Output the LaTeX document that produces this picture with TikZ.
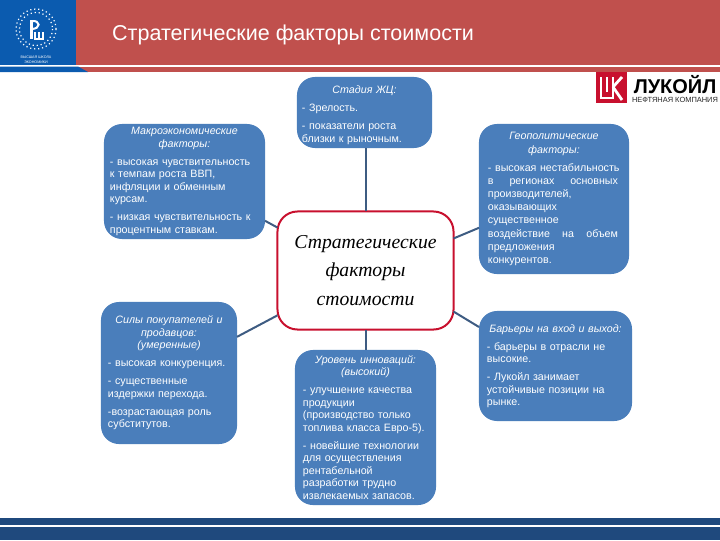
\documentclass[tikz,border=0pt]{standalone}
\usepackage{fontspec}
\setmainfont{Liberation Sans}
\newfontfamily\serifit{Liberation Serif}
\definecolor{hsered}{HTML}{C0504D}
\definecolor{hseblue}{HTML}{0B5BAF}
\definecolor{boxblue}{HTML}{4A7EBB}
\definecolor{linkblue}{HTML}{3E5C82}
\definecolor{footblue}{HTML}{1F497D}
\definecolor{lukred}{HTML}{C8102E}
\newcommand{\boxhead}[1]{{\centering\itshape #1\par}}
\newcommand{\spreadline}[3]{\leavevmode\hbox to 3.25cm{#1\hfill #2\hfill #3}}
\tikzset{
	infobox/.style={rounded corners=0.45cm, fill=boxblue, text=white, inner xsep=0.125cm, inner ysep=0cm, outer sep=0pt, align=left,
		font=\fontsize{7.6}{8.9}\selectfont, execute at begin node={\setlength{\parskip}{3.9pt}}},
	corebox/.style={rounded corners=0.5cm, draw=lukred, fill=white, line width=0.05cm, outer sep=0pt, align=center,
		font=\serifit\itshape\fontsize{14}{20}\selectfont},
	linkline/.style={draw=linkblue, line width=0.05cm}
}
\begin{document}
\begin{tikzpicture}[x=0.025cm, y=-0.025cm]
			%%%%% HEADER %%%%%
			\useasboundingbox (0, 0) rectangle (720, 540);
			
			\fill[hsered] (0, 0) rectangle (720, 65);
			\fill[hsered] (0, 66.5) rectangle (720, 72);
			\fill[hseblue] (0, 0) rectangle (76, 65);
			\fill[hseblue] (0, 66.5) -- (78, 66.5) -- (88, 72) -- (0, 72) -- cycle;
			
			\draw[white, dotted, line width=0.03cm] (36, 29) circle (20);
			\draw[white, dotted, line width=0.03cm] (36, 29) circle (16.5);
			\draw[white, line width=0.06cm] (31.5, 20) -- (31.5, 39);
			\draw[white, line width=0.05cm] (31.5, 21) .. controls (41, 20) and (41, 29) .. (31.5, 29);
			\draw[white, line width=0.04cm] (35, 32) -- (35, 39) -- (43, 39) -- (43, 32);
			\draw[white, line width=0.04cm] (39, 32) -- (39, 39);
			\node (logotext) at (36, 59.5) [white, align=center, inner sep=0pt, font=\fontsize{2.6}{3.6}\selectfont] {ВЫСШАЯ ШКОЛА\\ЭКОНОМИКИ};
			
			\node (title) at (293, 34.5) [white, inner sep=0pt, font=\fontsize{15.3}{17}\selectfont] {Стратегические факторы стоимости};
			
			%%%%% LOGO %%%%%
			\fill[lukred] (596, 72) rectangle (627, 103);
			\draw[white, line width=0.07cm] (601, 77) -- (601, 98) -- (613, 98) -- (613, 77);
			\draw[white, line width=0.07cm] (607, 77) -- (607, 92);
			\draw[white, line width=0.07cm] (613, 87) -- (622, 77);
			\draw[white, line width=0.07cm] (613, 87) -- (622, 100);
			\node (lukname) at (675, 84.5) [black, inner sep=0pt, font=\fontsize{14.2}{15}\bfseries\selectfont] {ЛУКОЙЛ};
			\node (luksub) at (675, 100) [black!85, inner sep=0pt, font=\fontsize{5.3}{6}\selectfont] {НЕФТЯНАЯ КОМПАНИЯ};
			
			%%%%% BOXES %%%%%
			\node[infobox, inner xsep=0.15cm, text width=3.725cm, minimum height=2.875cm] (macro) at (184.5, 181.5) {
				\boxhead{Макроэкономические\\факторы:}
				- высокая чувствительность\\к темпам роста ВВП,\\инфляции и обменным\\курсам.
				
				- низкая чувствительность к\\процентным ставкам.};
			\node[infobox, text width=3.125cm, minimum height=1.775cm] (stage) at (364.5, 112.5) {
				\boxhead{\rule{0pt}{9.5pt}Стадия ЖЦ:}
				- Зрелость.
				
				- показатели роста\\близки к рыночным.};
			\node[infobox, inner xsep=0.175cm, text width=3.05cm, minimum height=3.55cm] (buyers) at (169, 373) {
				\boxhead{Силы покупателей и\\продавцов:\\(умеренные)}
				- высокая конкуренция.
				
				- существенные\\издержки перехода.
				
				-возрастающая роль\\субститутов.};
			\node[infobox, inner xsep=0.2cm, text width=3.125cm, minimum height=3.875cm] (innov) at (365.5, 427.5) {
				\boxhead{Уровень инноваций:\\(высокий)}
				- улучшение качества\\продукции\\(производство  только\\топлива класса Евро-5).
				
				- новейшие технологии\\для осуществления\\рентабельной\\разработки трудно\\извлекаемых запасов.};
			\node[infobox, inner xsep=0.225cm, text width=3.3cm, minimum height=3.75cm, font=\fontsize{7.6}{9.3}\selectfont] (geo) at (554, 199) {
				\boxhead{Геополитические\\факторы:}
				- высокая нестабильность\\\spreadline{в}{регионах}{основных}\\производителей,\\оказывающих\\существенное\\\spreadline{воздействие}{на}{объем}\\предложения\\конкурентов.};
			\node[infobox, inner xsep=0.2cm, text width=3.425cm, minimum height=2.75cm] (barrier) at (555.5, 366) {
				\boxhead{Барьеры на вход и выход:}
				- барьеры в отрасли не\\высокие.
				
				- Лукойл занимает\\устойчивые позиции на\\рынке.};
			
			\node[corebox, minimum width=4.4cm, minimum height=2.95cm] (core) at (365.5, 270.5) {Стратегические\\факторы\\стоимости};
			
			%%%%% LINKS %%%%%
			\draw[linkline] (stage.south -| core.north) -- (core.north);
			\draw[linkline] (innov.north) -- (core.south);
			\draw[linkline] (macro.-26) -- (core.154.5);
			\draw[linkline] (buyers.28.5) -- (core.207);
			\draw[linkline] (geo.201) -- (core.20);
			\draw[linkline] (barrier.153.6) -- (core.-25);
			
			%%%%% FOOTER %%%%%
			\fill[footblue] (0, 518) rectangle (720, 525);
			\fill[footblue] (0, 527) rectangle (720, 540);
		\end{tikzpicture}
\end{document}
